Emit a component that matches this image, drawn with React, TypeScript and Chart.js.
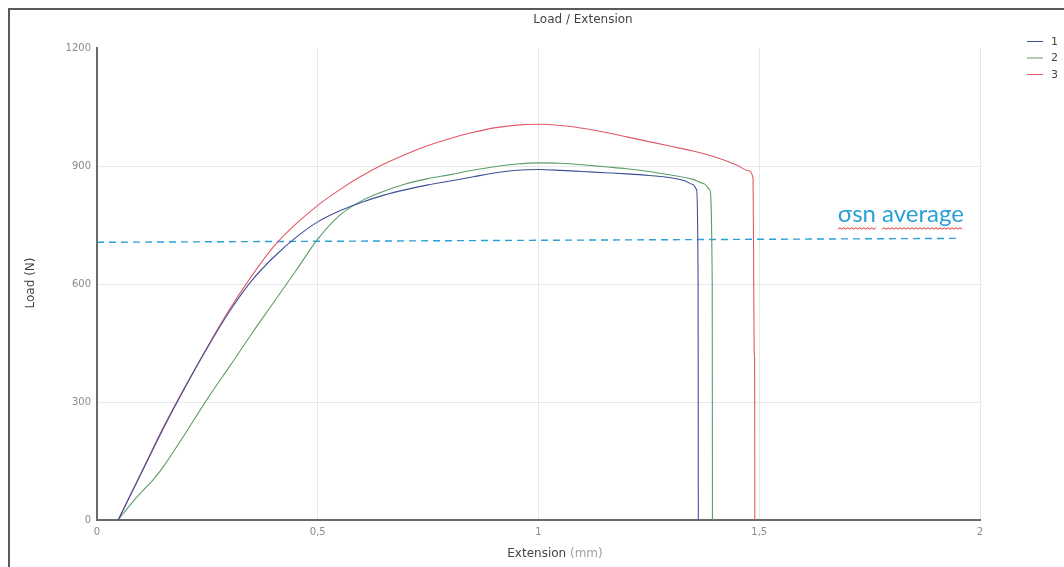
import React, { useEffect, useRef } from "react";
import { Chart, registerables } from "chart.js";

Chart.register(...registerables);

const seriesLabels = ["1", "2", "3"];
const seriesColors = ["#3f4f98", "#5c9e68", "#e05a66"];

// Specimen 1 (blue)
const ext1 = [0.048, 0.1, 0.15, 0.2, 0.25, 0.3, 0.35, 0.4, 0.45, 0.5, 0.55, 0.6, 0.65, 0.7, 0.75, 0.8, 0.85, 0.9, 0.95, 1.0, 1.05, 1.1, 1.15, 1.2, 1.25, 1.3, 1.33, 1.35, 1.358, 1.3615, 1.362];
const load1 = [0, 118, 232, 338, 438, 530, 608, 668, 718, 758, 786, 808, 826, 840, 852, 862, 872, 882, 889, 891, 889, 886, 883, 880, 876, 870, 863, 853, 840, 600, 0];

// Specimen 2 (green)
const ext2 = [0.048, 0.08, 0.1, 0.127, 0.15, 0.2, 0.25, 0.3, 0.35, 0.4, 0.45, 0.5, 0.55, 0.6, 0.65, 0.7, 0.75, 0.8, 0.85, 0.9, 0.95, 1.0, 1.05, 1.1, 1.15, 1.2, 1.25, 1.3, 1.35, 1.375, 1.388, 1.3935, 1.394];
const load2 = [0, 45, 70, 102, 135, 220, 308, 390, 473, 553, 633, 714, 775, 812, 836, 855, 868, 878, 889, 898, 905, 908, 907, 903, 898, 893, 886, 877, 866, 855, 840, 600, 0];

// Specimen 3 (red)
const ext3 = [0.048, 0.1, 0.15, 0.2, 0.25, 0.3, 0.35, 0.4, 0.45, 0.5, 0.55, 0.6, 0.65, 0.7, 0.75, 0.8, 0.85, 0.9, 0.95, 1.0, 1.05, 1.1, 1.15, 1.2, 1.25, 1.3, 1.35, 1.4, 1.45, 1.475, 1.486, 1.4875, 1.4885, 1.4895, 1.49];
const load3 = [0, 120, 235, 340, 440, 535, 620, 695, 752, 800, 840, 875, 905, 930, 952, 970, 985, 997, 1004, 1006, 1003, 996, 986, 974, 962, 950, 938, 923, 902, 888, 869, 600, 425, 410, 0];

// σsn average reference line
const avgExt = [0, 1.955];
const avgLoad = [706, 716];
const avgLabel = "σsn average";

const xTicks = [0, 0.5, 1, 1.5, 2];
const yTicks = [0, 300, 600, 900, 1200];

const chartTitle = "Load / Extension";
const xTitleMain = "Extension ";
const xTitleUnit = "(mm)";
const yTitle = "Load (N)";

const toPoints = (xs: number[], ys: number[]) => xs.map((x, i) => ({ x, y: ys[i] }));

const decorPlugin = {
  id: "decor",
  afterDraw(chart: any) {
    const { ctx, scales } = chart;
    const xs = scales.x;
    const ys = scales.y;
    ctx.save();
    // Title
    ctx.font = '12px "DejaVu Sans"';
    ctx.fillStyle = "#444";
    ctx.textAlign = "center";
    ctx.textBaseline = "middle";
    ctx.fillText(chartTitle, 573, 10);

    // X title (two colours)
    ctx.font = '12px "DejaVu Sans"';
    const w1 = ctx.measureText(xTitleMain).width;
    const w2 = ctx.measureText(xTitleUnit).width;
    const cx = 545;
    const startX = cx - (w1 + w2) / 2;
    ctx.textAlign = "left";
    ctx.fillStyle = "#444";
    ctx.fillText(xTitleMain, startX, 544);
    ctx.fillStyle = "#a0a0a0";
    ctx.fillText(xTitleUnit, startX + w1, 544);

    // Y title
    ctx.save();
    ctx.translate(21, 273);
    ctx.rotate(-Math.PI / 2);
    ctx.textAlign = "center";
    ctx.fillStyle = "#444";
    ctx.font = '12px "DejaVu Sans"';
    ctx.fillText(yTitle, 0, 0);
    ctx.restore();

    // Legend
    ctx.font = '11px "DejaVu Sans"';
    ctx.textAlign = "left";
    seriesLabels.forEach((lab, i) => {
      const y = 31 + i * 16.5;
      ctx.strokeStyle = seriesColors[i];
      ctx.lineWidth = 1;
      ctx.beginPath();
      ctx.moveTo(1017, y + 0.5);
      ctx.lineTo(1033, y + 0.5);
      ctx.stroke();
      ctx.fillStyle = "#444";
      ctx.fillText(lab, 1041, y + 1);
    });

    // Average label
    const lx = xs.getPixelForValue(1.678);
    const ly = ys.getPixelForValue(757);
    ctx.font = '24px "Lato"';
    ctx.fillStyle = "#2aa0d6";
    ctx.textAlign = "left";
    ctx.textBaseline = "alphabetic";
    ctx.fillText(avgLabel, lx, ly);
    // spell-check squiggles
    const parts = avgLabel.split(" ");
    const wA = ctx.measureText(parts[0]).width;
    const wSp = ctx.measureText(" ").width;
    const wB = ctx.measureText(parts[1]).width;
    const squiggle = (x0: number, x1: number, y0: number) => {
      ctx.beginPath();
      ctx.strokeStyle = "#e0302a";
      ctx.lineWidth = 1;
      let up = true;
      ctx.moveTo(x0, y0);
      for (let x = x0 + 2; x <= x1; x += 2) {
        ctx.lineTo(x, y0 + (up ? -1.5 : 0));
        up = !up;
      }
      ctx.stroke();
    };
    squiggle(lx, lx + wA, ly + 7);
    squiggle(lx + wA + wSp, lx + wA + wSp + wB, ly + 7);
    ctx.restore();
  },
};

export default function App() {
  const ref = useRef<HTMLCanvasElement | null>(null);
  useEffect(() => {
    if (!ref.current) return;
    const mk = (data: { x: number; y: number }[], color: string, label: string) => ({
      label,
      data,
      borderColor: color,
      backgroundColor: color,
      borderWidth: 1.1,
      pointRadius: 0,
      fill: false,
      cubicInterpolationMode: "monotone" as const,
    });
    const chart = new Chart(ref.current, {
      type: "line",
      data: {
        datasets: [
          mk(toPoints(ext1, load1), seriesColors[0], seriesLabels[0]),
          mk(toPoints(ext2, load2), seriesColors[1], seriesLabels[1]),
          mk(toPoints(ext3, load3), seriesColors[2], seriesLabels[2]),
          {
            label: avgLabel,
            data: toPoints(avgExt, avgLoad),
            borderColor: "#2aa0d6",
            borderWidth: 1.4,
            borderDash: [7, 5],
            pointRadius: 0,
            fill: false,
          },
        ],
      },
      options: {
        responsive: false,
        animation: false,
        devicePixelRatio: 1,
        layout: { padding: { left: 0, right: 84, top: 38, bottom: 0 } },
        plugins: {
          legend: { display: false },
          title: { display: false },
          tooltip: { enabled: false },
        },
        scales: {
          x: {
            type: "linear",
            min: 0,
            max: 2,
            afterBuildTicks: (s: any) => {
              s.ticks = xTicks.map((v) => ({ value: v }));
            },
            afterFit: (s: any) => {
              s.height = 47;
            },
            ticks: {
              color: "#8a8a8a",
              font: { family: "DejaVu Sans", size: 10 },
              padding: 6,
              maxRotation: 0,
              callback: (v: any) => String(v).replace(".", ","),
            },
            grid: {
              color: (c: any) => (c.tick && c.tick.value === 0 ? "transparent" : "#e8e8e8"),
              drawTicks: false,
            },
            border: { color: "#6a6a6a", width: 2 },
          },
          y: {
            type: "linear",
            min: 0,
            max: 1200,
            afterBuildTicks: (s: any) => {
              s.ticks = yTicks.map((v) => ({ value: v }));
            },
            afterFit: (s: any) => {
              s.width = 87;
            },
            ticks: {
              color: "#8a8a8a",
              font: { family: "DejaVu Sans", size: 10 },
              padding: 6,
              callback: (v: any) => String(v),
            },
            grid: {
              color: (c: any) =>
                c.tick && (c.tick.value === 1200 || c.tick.value === 0) ? "transparent" : "#e8e8e8",
              drawTicks: false,
            },
            border: { color: "#6a6a6a", width: 2 },
          },
        },
      },
      plugins: [decorPlugin],
    });
    return () => chart.destroy();
  }, []);

  return (
    <div
      style={{
        position: "fixed",
        left: 8,
        top: 8,
        width: 1054,
        height: 557,
        borderTop: "2px solid #5a5a5a",
        borderLeft: "2px solid #5a5a5a",
        background: "#fff",
      }}
    >
      <canvas ref={ref} width={1054} height={557} style={{ display: "block", width: 1054, height: 557 }} />
    </div>
  );
}
